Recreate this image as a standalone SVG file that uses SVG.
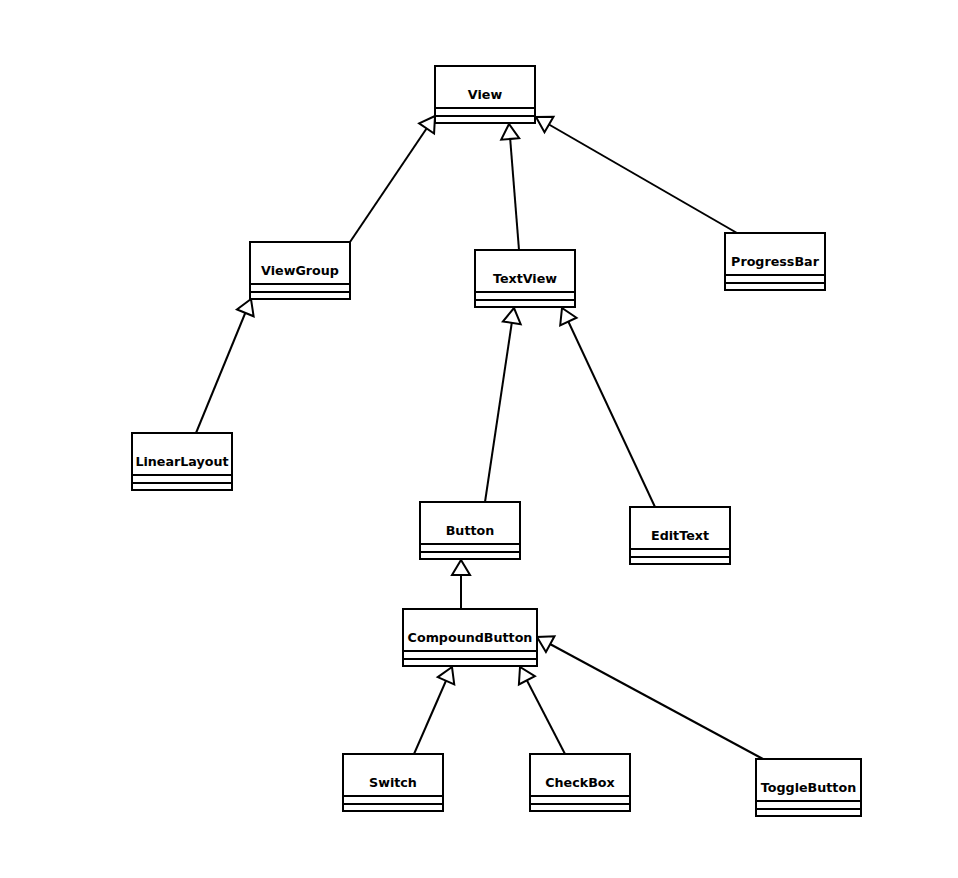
<svg xmlns="http://www.w3.org/2000/svg" width="958" height="878" viewBox="0 0 958 878">
  <style>
    .box { fill: #ffffff; stroke: #000000; stroke-width: 2; }
    .sep { stroke: #000000; stroke-width: 2; }
    .name { font-family: "DejaVu Sans", Verdana, sans-serif; font-weight: bold; font-size: 12.7px; fill: #000000; text-anchor: middle; }
    .edge { stroke: #000000; stroke-width: 2; fill: none; marker-end: url(#inherit); }
  </style>
  <defs>
    <!-- hollow triangle for generalization -->
    <marker id="inherit" markerUnits="userSpaceOnUse" viewBox="-16 -10 18 20" refX="0" refY="0" markerWidth="18" markerHeight="20" orient="auto" overflow="visible">
      <path d="M0,0 L-15,-9 L-15,9 Z" fill="#ffffff" stroke="#000000" stroke-width="2" stroke-linejoin="miter"/>
    </marker>
  </defs>
  <rect width="958" height="878" fill="#ffffff"/>

  <g id="connectors">
    <line class="edge" x1="350" y1="242" x2="435" y2="116"/>
    <line class="edge" x1="519" y1="250" x2="509" y2="124"/>
    <line class="edge" x1="737" y1="233" x2="536" y2="117"/>
    <line class="edge" x1="196" y1="433" x2="251" y2="299"/>
    <line class="edge" x1="485" y1="502" x2="514" y2="308"/>
    <line class="edge" x1="655" y1="507" x2="562" y2="308"/>
    <line class="edge" x1="461" y1="609" x2="461" y2="560"/>
    <line class="edge" x1="414" y1="754" x2="452" y2="667"/>
    <line class="edge" x1="565" y1="754" x2="520" y2="667"/>
    <line class="edge" x1="763" y1="759" x2="537" y2="637"/>
  </g>

  <g id="View">
    <rect class="box" x="435" y="66" width="100" height="57"/>
    <line class="sep" x1="435" y1="108" x2="535" y2="108"/>
    <line class="sep" x1="435" y1="116" x2="535" y2="116"/>
    <text class="name" x="485" y="98.5">View</text>
  </g>
  <g id="ViewGroup">
    <rect class="box" x="250" y="242" width="100" height="57"/>
    <line class="sep" x1="250" y1="284" x2="350" y2="284"/>
    <line class="sep" x1="250" y1="292" x2="350" y2="292"/>
    <text class="name" x="300" y="274.5">ViewGroup</text>
  </g>
  <g id="TextView">
    <rect class="box" x="475" y="250" width="100" height="57"/>
    <line class="sep" x1="475" y1="292" x2="575" y2="292"/>
    <line class="sep" x1="475" y1="300" x2="575" y2="300"/>
    <text class="name" x="525" y="282.5">TextView</text>
  </g>
  <g id="ProgressBar">
    <rect class="box" x="725" y="233" width="100" height="57"/>
    <line class="sep" x1="725" y1="275" x2="825" y2="275"/>
    <line class="sep" x1="725" y1="283" x2="825" y2="283"/>
    <text class="name" x="775" y="265.5">ProgressBar</text>
  </g>
  <g id="LinearLayout">
    <rect class="box" x="132" y="433" width="100" height="57"/>
    <line class="sep" x1="132" y1="475" x2="232" y2="475"/>
    <line class="sep" x1="132" y1="483" x2="232" y2="483"/>
    <text class="name" x="182" y="465.5">LinearLayout</text>
  </g>
  <g id="Button">
    <rect class="box" x="420" y="502" width="100" height="57"/>
    <line class="sep" x1="420" y1="544" x2="520" y2="544"/>
    <line class="sep" x1="420" y1="552" x2="520" y2="552"/>
    <text class="name" x="470" y="534.5">Button</text>
  </g>
  <g id="EditText">
    <rect class="box" x="630" y="507" width="100" height="57"/>
    <line class="sep" x1="630" y1="549" x2="730" y2="549"/>
    <line class="sep" x1="630" y1="557" x2="730" y2="557"/>
    <text class="name" x="680" y="539.5">EditText</text>
  </g>
  <g id="CompoundButton">
    <rect class="box" x="403" y="609" width="134" height="57"/>
    <line class="sep" x1="403" y1="651" x2="537" y2="651"/>
    <line class="sep" x1="403" y1="659" x2="537" y2="659"/>
    <text class="name" x="470" y="641.5">CompoundButton</text>
  </g>
  <g id="Switch">
    <rect class="box" x="343" y="754" width="100" height="57"/>
    <line class="sep" x1="343" y1="796" x2="443" y2="796"/>
    <line class="sep" x1="343" y1="804" x2="443" y2="804"/>
    <text class="name" x="393" y="786.5">Switch</text>
  </g>
  <g id="CheckBox">
    <rect class="box" x="530" y="754" width="100" height="57"/>
    <line class="sep" x1="530" y1="796" x2="630" y2="796"/>
    <line class="sep" x1="530" y1="804" x2="630" y2="804"/>
    <text class="name" x="580" y="786.5">CheckBox</text>
  </g>
  <g id="ToggleButton">
    <rect class="box" x="756" y="759" width="105" height="57"/>
    <line class="sep" x1="756" y1="801" x2="861" y2="801"/>
    <line class="sep" x1="756" y1="809" x2="861" y2="809"/>
    <text class="name" x="808.5" y="791.5">ToggleButton</text>
  </g>
</svg>
